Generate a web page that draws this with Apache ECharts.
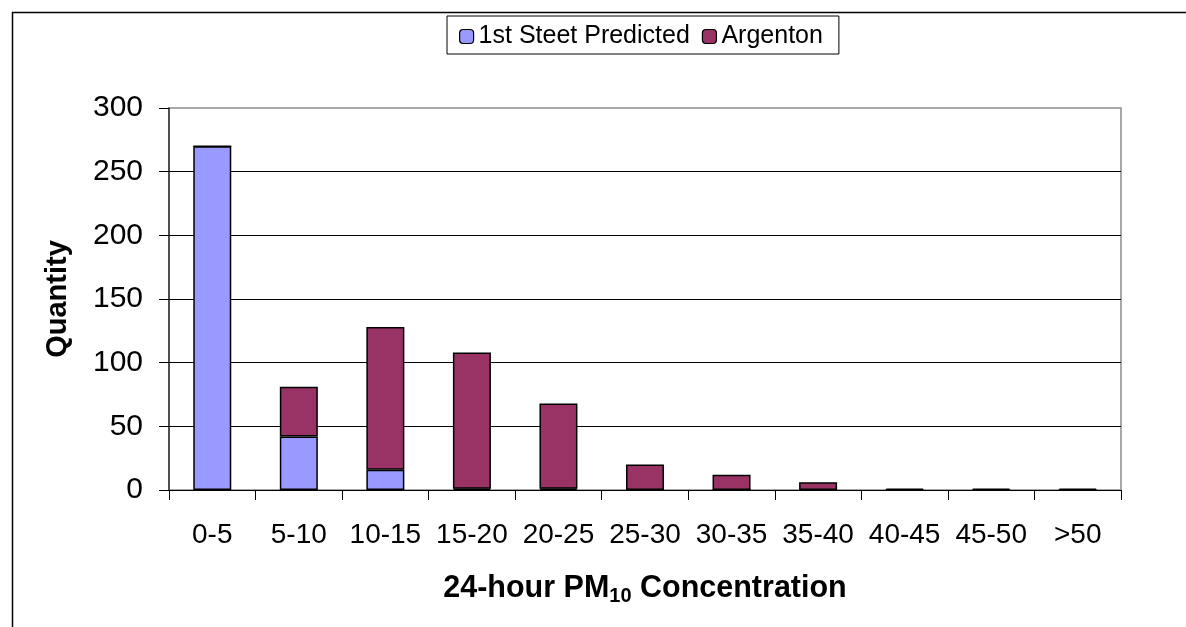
<!DOCTYPE html>
<html>
<head>
<meta charset="utf-8">
<script src="https://cdn.jsdelivr.net/npm/echarts@6/dist/echarts.min.js"></script>
<style>
html,body{margin:0;padding:0;background:#fff;}
#chart{width:1186px;height:627px;}
</style>
</head>
<body>
<div id="chart"></div>
<script>
const categories = ['0-5','5-10','10-15','15-20','20-25','25-30','30-35','35-40','40-45','45-50','>50'];
const firstStreet = [270, 42, 16, 1, 1, 0, 0, 0, 0, 0, 0];
const argenton = [0, 39, 112, 107, 67, 20, 12, 6, 1, 1, 1];
const yTicks = [0, 50, 100, 150, 200, 250, 300];

const FONT = '"Liberation Sans", Arial, sans-serif';
const chart = echarts.init(document.getElementById('chart'));
chart.setOption({
  animation: false,
  backgroundColor: '#ffffff',
  graphic: [{
    type: 'rect', left: 10, top: 10, z: -1,
    shape: { width: 1250, height: 700 },
    style: { fill: 'none', stroke: '#000', lineWidth: 1.5 }
  }],
  legend: {
    data: ['1st Steet Predicted', 'Argenton'],
    left: 447, top: 16,
    padding: [8, 16, 5, 12],
    itemGap: 12,
    itemWidth: 14, itemHeight: 14,
    borderColor: '#000', borderWidth: 1,
    textStyle: { fontFamily: FONT, fontSize: 25, color: '#000' },
    itemStyle: { borderColor: '#000', borderWidth: 1.2 }
  },
  grid: {
    left: 169, top: 108, right: 65, bottom: 137,
    show: true, borderColor: '#8c8c8c', borderWidth: 1.5, backgroundColor: 'transparent'
  },
  xAxis: {
    type: 'category',
    data: categories,
    axisLine: { lineStyle: { color: '#000', width: 1.2 } },
    axisTick: { show: true, length: 10, lineStyle: { color: '#000' } },
    axisLabel: { interval: 0, fontFamily: FONT, fontSize: 28, color: '#000', margin: 31 },
    name: '{a|24-hour PM}{s|10}{a| Concentration}',
    nameLocation: 'middle',
    nameGap: 82,
    nameTextStyle: {
      rich: {
        a: { fontFamily: FONT, fontSize: 30.5, fontWeight: 'bold', color: '#000' },
        s: { fontFamily: FONT, fontSize: 20, fontWeight: 'bold', color: '#000', verticalAlign: 'bottom', padding: [14, 0, 0, 0] }
      }
    }
  },
  yAxis: {
    type: 'value',
    min: yTicks[0], max: yTicks[yTicks.length - 1], interval: 50,
    axisLine: { show: true, lineStyle: { color: '#333', width: 1.5 } },
    axisTick: { show: true, length: 10, lineStyle: { color: '#000' } },
    axisLabel: { fontFamily: FONT, fontSize: 30, color: '#000', margin: 26 },
    splitLine: { showMaxLine: false, lineStyle: { color: '#000', width: 1 } },
    name: 'Quantity',
    nameLocation: 'middle',
    nameGap: 97,
    nameTextStyle: { fontFamily: FONT, fontSize: 29, fontWeight: 'bold', color: '#000' }
  },
  series: [
    {
      name: '1st Steet Predicted', type: 'bar', stack: 'a', data: firstStreet,
      barWidth: 38,
      itemStyle: { color: '#9999FF', borderColor: '#000', borderWidth: 1.5 }
    },
    {
      name: 'Argenton', type: 'bar', stack: 'a', data: argenton,
      barWidth: 38,
      itemStyle: { color: '#993366', borderColor: '#000', borderWidth: 1.5 }
    }
  ]
});
</script>
</body>
</html>
